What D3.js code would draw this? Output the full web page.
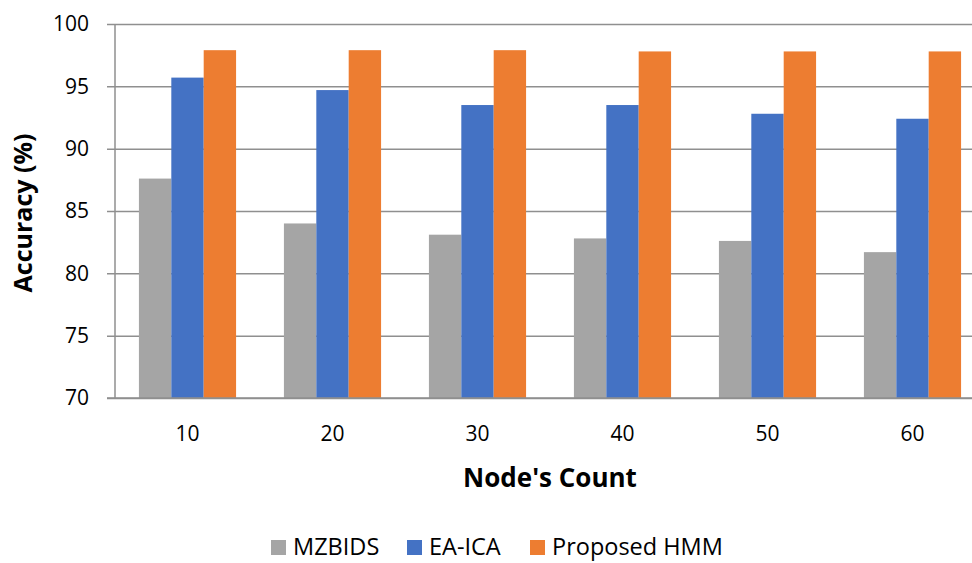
<!DOCTYPE html>
<html>
<head>
<meta charset="utf-8">
<script src="https://cdn.jsdelivr.net/npm/d3@7/dist/d3.min.js"></script>
<style>
  html, body { margin: 0; padding: 0; background: #fff; }
  svg { display: block; }
  text { font-family: "Open Sans", Lato, "Liberation Sans", sans-serif; fill: #000; }
</style>
</head>
<body>
<svg id="chart" width="972" height="563"></svg>
<script>
// Accuracy by node count for three detection approaches
const categories = ["10", "20", "30", "40", "50", "60"];
const seriesNames = ["MZBIDS", "EA-ICA", "Proposed HMM"];
const mzbids = [87.6, 84.0, 83.1, 82.8, 82.6, 81.7];
const eaIca = [95.7, 94.7, 93.5, 93.5, 92.8, 92.4];
const proposedHmm = [97.9, 97.9, 97.9, 97.8, 97.8, 97.8];
const yTicks = [70, 75, 80, 85, 90, 95, 100];
const colors = ["#A5A5A5", "#4472C4", "#ED7D31"];

const seriesValues = [mzbids, eaIca, proposedHmm];
const rows = categories.map((c, i) => ({
  cat: c,
  vals: seriesNames.map((s, j) => ({ key: s, value: seriesValues[j][i], color: colors[j] }))
}));

const svg = d3.select("#chart");
const margin = { left: 115, top: 24 };
const plotW = 870, plotH = 374;

const x = d3.scaleBand().domain(categories).range([0, plotW]).paddingInner(0.33).paddingOuter(0.165);
const xs = d3.scaleBand().domain(seriesNames).range([0, x.bandwidth()]);
const y = d3.scaleLinear().domain([70, 100]).range([plotH, 0]);

const g = svg.append("g").attr("transform", `translate(${margin.left},${margin.top})`);

// Horizontal gridlines and tick labels
const yAxis = d3.axisLeft(y).tickValues(yTicks).tickSize(-plotW).tickPadding(26);
const yg = g.append("g").call(yAxis);
yg.select(".domain").remove();
yg.selectAll(".tick line").attr("stroke", "#8f8f8f").attr("stroke-width", 1.5).attr("x1", -8);
yg.selectAll(".tick text").style("font-size", "21px").attr("fill", "#000");

// Left axis line
g.append("line").attr("x1", 0).attr("x2", 0).attr("y1", 0).attr("y2", plotH)
  .attr("stroke", "#8f8f8f").attr("stroke-width", 1.5);

// Bars
const groups = g.selectAll(".grp").data(rows).join("g")
  .attr("transform", d => `translate(${x(d.cat)},0)`);
groups.selectAll("rect").data(d => d.vals).join("rect")
  .attr("x", d => xs(d.key))
  .attr("width", xs.bandwidth())
  .attr("y", d => y(d.value))
  .attr("height", d => y(70) - y(d.value))
  .attr("fill", d => d.color);

// Baseline
g.append("line").attr("x1", -8).attr("x2", plotW).attr("y1", plotH).attr("y2", plotH)
  .attr("stroke", "#8f8f8f").attr("stroke-width", 1.5);

// Category labels
const xAxis = d3.axisBottom(x).tickSize(0).tickPadding(28);
const xg = g.append("g").attr("transform", `translate(0,${plotH})`).call(xAxis);
xg.select(".domain").remove();
xg.selectAll(".tick text").style("font-size", "21px").attr("fill", "#000");

// Axis titles
svg.append("text").attr("x", 550).attr("y", 487).attr("text-anchor", "middle")
  .style("font-size", "26px").style("font-weight", "bold").text("Node's Count");
svg.append("text").attr("transform", "translate(32,213) rotate(-90)").attr("text-anchor", "middle")
  .style("font-size", "25px").style("font-weight", "bold").text("Accuracy (%)");

// Legend
const legendX = [271, 407, 530];
const legend = svg.append("g");
seriesNames.forEach((s, i) => {
  legend.append("rect").attr("x", legendX[i]).attr("y", 540).attr("width", 15).attr("height", 15).attr("fill", colors[i]);
  legend.append("text").attr("x", legendX[i] + 22).attr("y", 555).style("font-size", "23.5px").text(s);
});
</script>
</body>
</html>
